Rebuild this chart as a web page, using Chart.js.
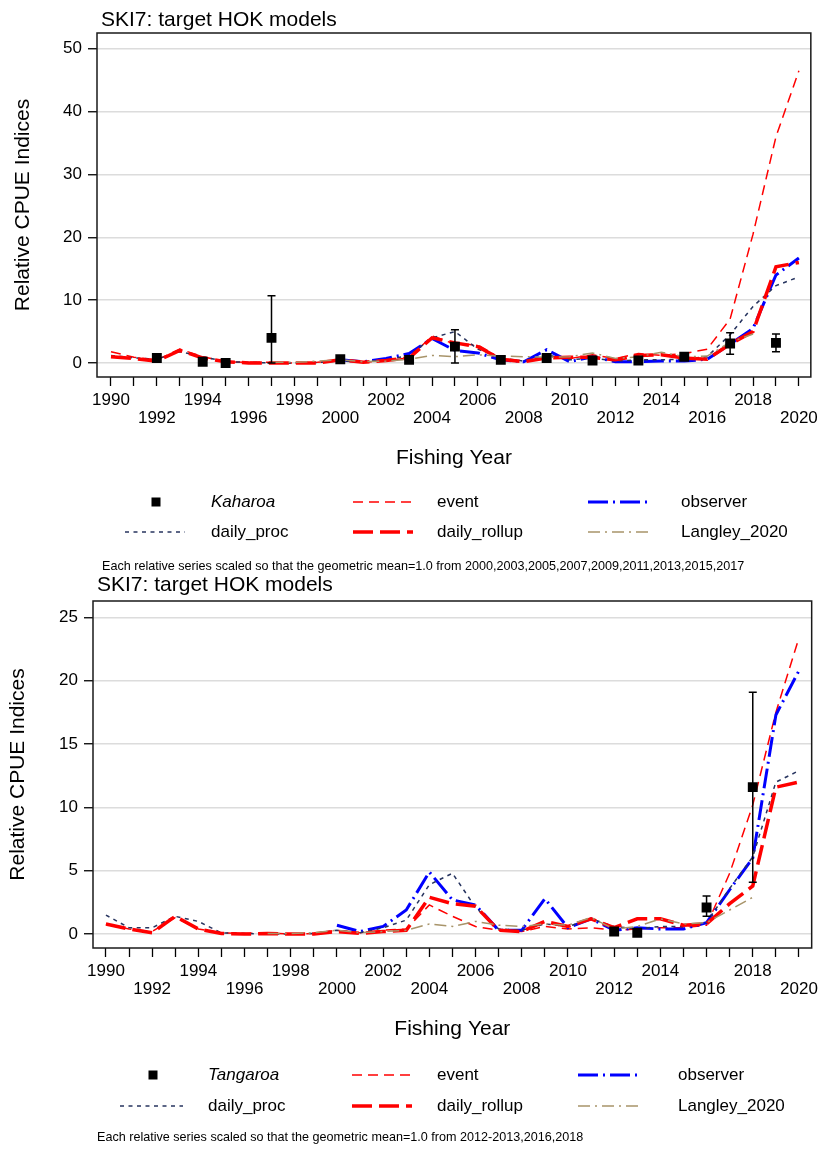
<!DOCTYPE html>
<html lang="en">
<head>
<meta charset="UTF-8">
<title>SKI7: target HOK models</title>
<script src="https://cdn.jsdelivr.net/npm/chart.js"></script>
<style>
  html, body { margin: 0; padding: 0; background: #fff; }
  body { width: 824px; height: 1153px; position: relative; overflow: hidden; }
  .panel { position: absolute; left: 0; width: 824px; }
  #topPanel { top: 0; height: 576px; }
  #botPanel { top: 576px; height: 577px; }
</style>
</head>
<body>
<div class="panel" id="topPanel"><canvas id="topChart"></canvas></div>
<div class="panel" id="botPanel"><canvas id="botChart"></canvas></div>
<script>
// fishing years on the x axis
const years = [1990, 1991, 1992, 1993, 1994, 1995, 1996, 1997, 1998, 1999,
  2000, 2001, 2002, 2003, 2004, 2005, 2006, 2007, 2008, 2009,
  2010, 2011, 2012, 2013, 2014, 2015, 2016, 2017, 2018, 2019, 2020];

// ---- top panel (Kaharoa) ----
const topTicksY = [0, 10, 20, 30, 40, 50];
const topEvent = [1.8, 0.9, 0.5, 2.2, 1.0, 0.2, 0.1, 0.1, 0.0, 0.1,
  0.4, 0.1, 0.4, 0.8, 4.3, 3.0, 2.9, 0.7, 0.3, 1.0,
  0.7, 1.3, 0.7, 1.5, 1.2, 1.5, 2.2, 7.0, 20.5, 36.0, 46.5];
const topObserver = [null, null, null, null, null, null, null, null, null, null,
  0.5, 0.2, 0.7, 1.5, 3.9, 2.0, 1.6, 0.5, 0.2, 2.1,
  0.2, 1.0, 0.2, 0.2, 0.3, 0.3, 0.6, 3.0, 5.5, 14.0, 16.7];
const topProc = [1.2, 0.8, 0.6, 1.8, 1.0, 0.2, 0.1, 0.0, 0.0, 0.1,
  0.3, 0.2, 0.5, 1.2, 4.0, 5.0, 2.2, 0.8, 0.3, 1.3,
  0.5, 0.8, 0.3, 0.5, 0.5, 0.6, 1.0, 4.5, 9.0, 12.3, 13.7];
const topRollup = [1.0, 0.7, 0.3, 2.0, 0.8, 0.2, 0.0, 0.0, 0.0, 0.0,
  0.5, 0.1, 0.4, 0.8, 4.0, 3.2, 2.6, 0.6, 0.2, 0.8,
  0.9, 0.9, 0.5, 1.2, 1.3, 0.8, 0.6, 3.0, 5.0, 15.3, 16.0];
const topLangley = [null, null, null, null, null, null, null, 0.1, 0.1, 0.3,
  0.5, 0.2, 0.3, 0.6, 1.2, 1.0, 1.3, 1.1, 1.0, 0.9,
  1.0, 1.6, 0.7, 1.0, 1.7, 1.0, 1.1, 3.3, 4.6, null, null];
const kaharoaYears = [1992, 1994, 1995, 1997, 2000, 2003, 2005, 2007, 2009, 2011, 2013, 2015, 2017, 2019];
const kaharoaVals  = [0.8, 0.2, 0.0, 4.0, 0.6, 0.5, 2.6, 0.5, 0.8, 0.4, 0.4, 1.0, 3.1, 3.2];
const kaharoaLo    = [null, null, null, 0.0, null, null, 0.0, null, null, null, null, null, 1.4, 1.8];
const kaharoaHi    = [null, null, null, 10.7, null, null, 5.3, null, null, null, null, null, 4.8, 4.6];

// ---- bottom panel (Tangaroa) ----
const botTicksY = [0, 5, 10, 15, 20, 25];
const botEvent = [0.8, 0.4, 0.2, 1.3, 0.4, 0.1, 0.05, 0.1, 0.0, 0.05,
  0.3, 0.1, 0.3, 0.4, 2.3, 1.4, 0.6, 0.3, 0.2, 0.6,
  0.4, 0.5, 0.3, 0.4, 0.5, 0.5, 0.7, 4.8, 10.2, 17.5, 23.4];
const botObserver = [null, null, null, null, null, null, null, null, null, null,
  0.7, 0.2, 0.6, 1.9, 4.9, 2.7, 2.3, 0.3, 0.3, 2.8,
  0.5, 1.2, 0.3, 0.5, 0.4, 0.4, 0.9, 3.5, 6.0, 17.3, 20.8];
const botProc = [1.5, 0.5, 0.5, 1.4, 1.0, 0.1, 0.05, 0.0, 0.0, 0.05,
  0.3, 0.1, 0.5, 1.1, 3.9, 4.8, 2.1, 0.4, 0.3, 0.8,
  0.6, 1.2, 0.6, 0.4, 0.6, 0.6, 0.9, 3.6, 6.1, 12.0, 12.9];
const botRollup = [0.8, 0.4, 0.1, 1.4, 0.4, 0.05, 0.0, 0.05, 0.0, 0.0,
  0.2, 0.05, 0.2, 0.3, 2.9, 2.4, 2.2, 0.3, 0.2, 1.0,
  0.6, 1.2, 0.5, 1.2, 1.2, 0.7, 0.8, 2.4, 3.8, 11.6, 12.0];
const botLangley = [null, null, null, null, null, null, null, 0.05, 0.05, 0.1,
  0.3, 0.1, 0.2, 0.3, 0.8, 0.6, 1.0, 0.7, 0.6, 0.8,
  0.7, 1.3, 0.4, 0.6, 1.2, 0.8, 0.9, 1.9, 2.9, null, null];
const tangaroaYears = [2012, 2013, 2016, 2018];
const tangaroaVals  = [0.2, 0.1, 2.1, 11.6];
const tangaroaLo    = [null, null, 1.4, 4.1];
const tangaroaHi    = [null, null, 3.0, 19.1];

const FONT = '"Liberation Sans", Arial, sans-serif';

// line looks for each series
const styles = {
  event:   { color: '#ff0000', width: 1.5, dash: [10, 6] },
  observer:{ color: '#0000ff', width: 3,   dash: [20, 5, 2, 5] },
  proc:    { color: '#27345f', width: 1.5, dash: [4, 4.5] },
  rollup:  { color: '#ff0000', width: 3.5, dash: [20, 7] },
  langley: { color: '#a8946a', width: 1.5, dash: [12, 5, 2, 5] }
};

function pts(vals) {
  return years.map((yr, i) => ({ x: yr, y: vals[i] }));
}

function lineSet(label, vals, st, order) {
  return {
    label: label, data: pts(vals), borderColor: st.color, borderWidth: st.width,
    borderDash: st.dash, pointRadius: 0, fill: false, tension: 0, order: order
  };
}

function makeChart(id, c) {
  const legendItems = [
    { text: c.pointLabel, italic: true, col: 0, row: 0 },
    { text: 'event', st: styles.event, col: 1, row: 0 },
    { text: 'observer', st: styles.observer, col: 2, row: 0 },
    { text: 'daily_proc', st: styles.proc, col: 0, row: 1 },
    { text: 'daily_rollup', st: styles.rollup, col: 1, row: 1 },
    { text: 'Langley_2020', st: styles.langley, col: 2, row: 1 }
  ];

  const extras = {
    id: 'extras',
    afterDatasetsDraw(chart) {
      const { ctx, chartArea: a, scales: { x, y } } = chart;
      ctx.save();
      // confidence bars
      ctx.strokeStyle = '#000';
      ctx.lineWidth = 1.5;
      ctx.setLineDash([]);
      c.pYears.forEach((yr, i) => {
        if (c.pLo[i] == null || c.pHi[i] == null) return;
        const px = x.getPixelForValue(yr);
        const p1 = y.getPixelForValue(c.pLo[i]);
        const p2 = y.getPixelForValue(c.pHi[i]);
        ctx.beginPath();
        ctx.moveTo(px, p1); ctx.lineTo(px, p2);
        ctx.moveTo(px - 4, p1); ctx.lineTo(px + 4, p1);
        ctx.moveTo(px - 4, p2); ctx.lineTo(px + 4, p2);
        ctx.stroke();
      });
      // plot frame
      ctx.strokeStyle = '#1a1a1a';
      ctx.strokeRect(a.left, a.top, a.right - a.left, a.bottom - a.top);
      ctx.restore();
    },
    afterDraw(chart) {
      const ctx = chart.ctx;
      ctx.save();
      ctx.fillStyle = '#000';
      ctx.textBaseline = 'middle';
      ctx.textAlign = 'left';
      ctx.font = '21px ' + FONT;
      ctx.fillText('SKI7: target HOK models', c.titleX, c.titleY);

      // legend
      const L = c.legend;
      legendItems.forEach(it => {
        const yy = L.rows[it.row];
        ctx.save();
        if (!it.st) {
          ctx.fillStyle = '#000';
          ctx.fillRect(L.square - 4.5, yy - 4.5, 9, 9);
        } else {
          const s = L.samples[it.col];
          ctx.strokeStyle = it.st.color;
          ctx.lineWidth = it.st.width;
          ctx.setLineDash(it.st.dash);
          ctx.beginPath();
          ctx.moveTo(s[0], yy); ctx.lineTo(s[1], yy);
          ctx.stroke();
        }
        ctx.restore();
        ctx.font = (it.italic ? 'italic ' : '') + '17px ' + FONT;
        ctx.fillText(it.text, L.textX[it.col], yy);
      });

      ctx.font = '12.6px ' + FONT;
      ctx.fillText(c.note, c.noteX, c.noteY);
      ctx.restore();
    }
  };

  const pointSet = {
    label: c.pointLabel,
    data: c.pYears.map((yr, i) => ({ x: yr, y: c.pVals[i] })),
    showLine: false, pointStyle: 'rect', pointRadius: 7,
    pointBackgroundColor: '#000', pointBorderColor: '#000', pointBorderWidth: 0,
    order: 0
  };

  return new Chart(document.getElementById(id), {
    type: 'line',
    data: {
      datasets: [
        pointSet,
        lineSet('Langley_2020', c.langley, styles.langley, 1),
        lineSet('daily_rollup', c.rollup, styles.rollup, 2),
        lineSet('daily_proc', c.proc, styles.proc, 3),
        lineSet('observer', c.observer, styles.observer, 4),
        lineSet('event', c.event, styles.event, 5)
      ]
    },
    options: {
      responsive: true,
      maintainAspectRatio: false,
      animation: false,
      devicePixelRatio: 1,
      layout: {
        padding: { left: 0, top: c.top, right: 824 - c.right, bottom: c.height - c.bottom - 96 }
      },
      plugins: { legend: { display: false }, tooltip: { enabled: false }, title: { display: false } },
      scales: {
        x: {
          type: 'linear',
          min: c.xMin, max: c.xMax,
          afterBuildTicks: s => { s.ticks = years.map(v => ({ value: v })); },
          afterFit: s => { s.height = 96; },
          border: { display: false },
          grid: { drawOnChartArea: false, tickLength: 9, tickColor: '#000', tickWidth: 1.3 },
          ticks: {
            autoSkip: false, maxRotation: 0, minRotation: 0, padding: 6, color: '#000',
            font: { family: FONT, size: 17, lineHeight: 1.02 },
            callback: v => v % 4 === 2 ? String(v) : (v % 4 === 0 ? ['', String(v)] : '')
          },
          title: {
            display: true, text: 'Fishing Year', color: '#000',
            font: { family: FONT, size: 21 }, padding: { top: 0, bottom: 2 }
          }
        },
        y: {
          min: c.yMin, max: c.yMax,
          afterBuildTicks: s => { s.ticks = c.yTicks.map(v => ({ value: v })); },
          afterFit: s => { s.width = c.left; },
          border: { display: false },
          grid: { color: '#dcdcdc', lineWidth: 1.5, tickLength: 9, tickColor: '#000', tickWidth: 1.3 },
          ticks: {
            padding: 6, color: '#000',
            font: { family: FONT, size: 17 },
            callback: v => String(v)
          },
          title: {
            display: true, text: 'Relative CPUE Indices', color: '#000',
            font: { family: FONT, size: 21 }, padding: { top: c.yTitlePad, bottom: 0 }
          }
        }
      }
    },
    plugins: [extras]
  });
}

makeChart('topChart', {
  height: 576, left: 97, right: 813, top: 33, bottom: 377,
  xMin: 1989.39, xMax: 2020.52, yMin: -2.23, yMax: 52.5, yTicks: topTicksY, yTitlePad: 11,
  event: topEvent, observer: topObserver, proc: topProc, rollup: topRollup, langley: topLangley,
  pointLabel: 'Kaharoa', pYears: kaharoaYears, pVals: kaharoaVals, pLo: kaharoaLo, pHi: kaharoaHi,
  titleX: 101, titleY: 20,
  legend: { rows: [502, 532], square: 156, samples: [[125, 185], [353, 413], [588, 650]], textX: [211, 437, 681] },
  note: 'Each relative series scaled so that the geometric mean=1.0 from 2000,2003,2005,2007,2009,2011,2013,2015,2017',
  noteX: 102, noteY: 567
});

makeChart('botChart', {
  height: 577, left: 93, right: 817, top: 25, bottom: 372,
  xMin: 1989.44, xMax: 2020.55, yMin: -1.1, yMax: 26.3, yTicks: botTicksY, yTitlePad: 6,
  event: botEvent, observer: botObserver, proc: botProc, rollup: botRollup, langley: botLangley,
  pointLabel: 'Tangaroa', pYears: tangaroaYears, pVals: tangaroaVals, pLo: tangaroaLo, pHi: tangaroaHi,
  titleX: 97, titleY: 9,
  legend: { rows: [499, 530], square: 153, samples: [[120, 183], [352, 412], [578, 640]], textX: [208, 437, 678] },
  note: 'Each relative series scaled so that the geometric mean=1.0 from 2012-2013,2016,2018',
  noteX: 97, noteY: 562
});
</script>
</body>
</html>
